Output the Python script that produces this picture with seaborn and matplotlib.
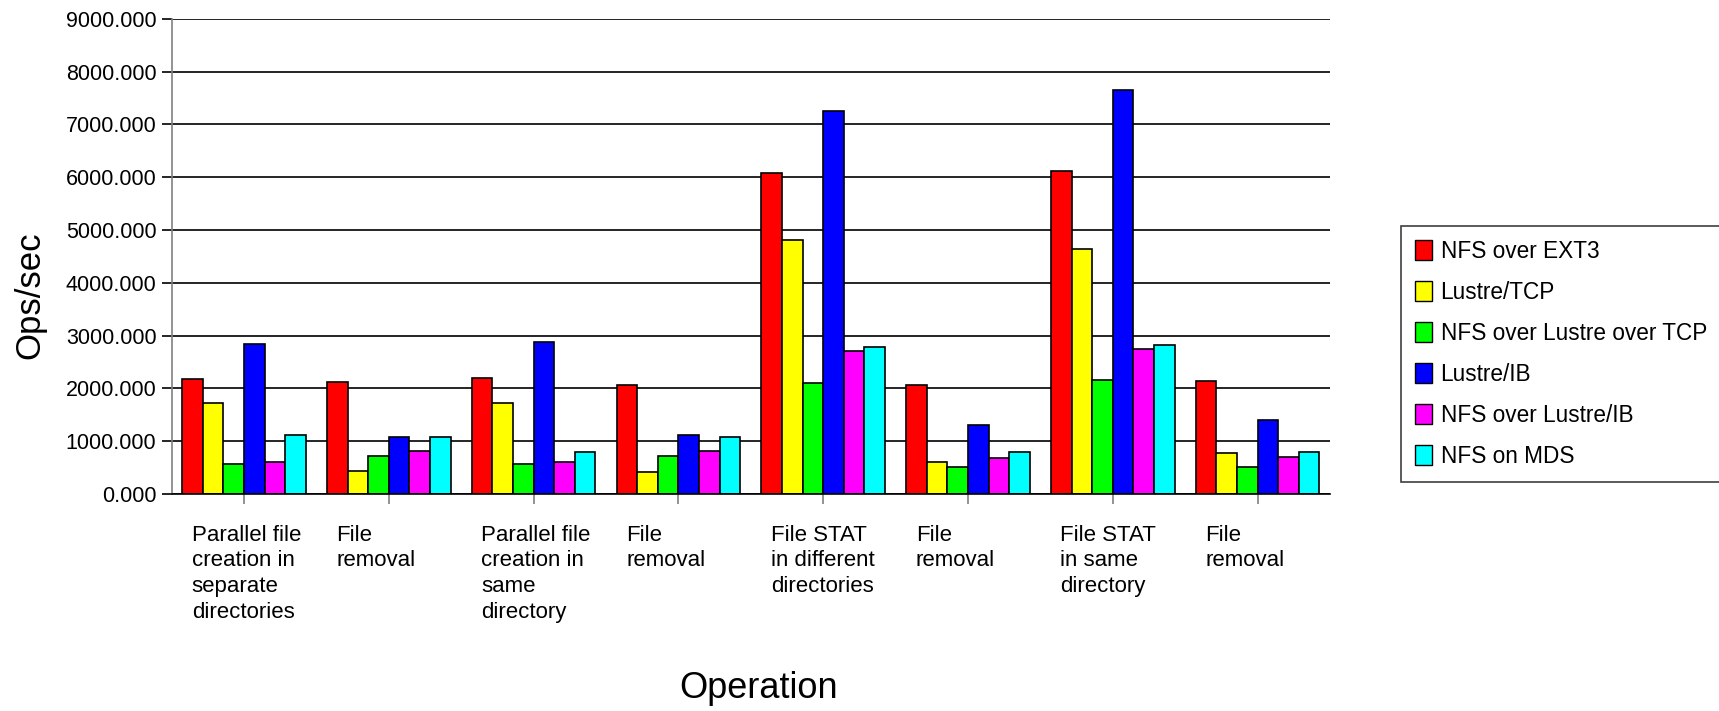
import numpy as np
import pandas as pd
import matplotlib
matplotlib.use("Agg")
import matplotlib.pyplot as plt
import seaborn as sns
from matplotlib.transforms import ScaledTranslation
from matplotlib.patches import Patch
from matplotlib.ticker import FuncFormatter

# ---------------- data ----------------
operation_labels = [
    "Parallel file\ncreation in\nseparate\ndirectories",
    "File\nremoval",
    "Parallel file\ncreation in\nsame\ndirectory",
    "File\nremoval",
    "File STAT\nin different\ndirectories",
    "File\nremoval",
    "File STAT\nin same\ndirectory",
    "File\nremoval",
]
operation_keys = ["op1", "op2", "op3", "op4", "op5", "op6", "op7", "op8"]

series_names = [
    "NFS over EXT3",
    "Lustre/TCP",
    "NFS over Lustre over TCP",
    "Lustre/IB",
    "NFS over Lustre/IB",
    "NFS on MDS",
]
nfs_over_ext3 = [2178, 2115, 2203, 2062, 6073, 2062, 6117, 2140]
lustre_tcp = [1717, 429, 1717, 423, 4817, 606, 4640, 776]
nfs_over_lustre_tcp = [568, 713, 568, 713, 2100, 505, 2153, 505]
lustre_ib = [2847, 1082, 2879, 1114, 7260, 1307, 7645, 1401]
nfs_over_lustre_ib = [600, 811, 600, 817, 2702, 682, 2740, 701]
nfs_on_mds = [1111, 1076, 792, 1073, 2778, 793, 2828, 789]

series_values = [nfs_over_ext3, lustre_tcp, nfs_over_lustre_tcp,
                 lustre_ib, nfs_over_lustre_ib, nfs_on_mds]
colors = ["#FF0000", "#FFFF00", "#00FF00", "#0000FF", "#FF00FF", "#00FFFF"]

rows = []
for name, vals in zip(series_names, series_values):
    for k, v in zip(operation_keys, vals):
        rows.append({"op": k, "series": name, "value": v})
df = pd.DataFrame(rows)

# ---------------- style ----------------
sns.set_theme(style="white")
plt.rcParams["font.family"] = ["Liberation Sans", "DejaVu Sans"]
plt.rcParams["text.color"] = "black"
plt.rcParams["xtick.color"] = "black"
plt.rcParams["ytick.color"] = "black"

W, H = 1719, 711
fig = plt.figure(figsize=(W / 100, H / 100), dpi=100)
fig.patch.set_facecolor("white")
ax = fig.add_axes([171.7 / W, 1 - 494 / H, (1330 - 171.7) / W, (494 - 18.8) / H])

sns.barplot(data=df, x="op", y="value", hue="series", order=operation_keys,
            hue_order=series_names, palette=colors, width=0.854,
            edgecolor="black", linewidth=1.2, saturation=1, ax=ax,
            legend=False, errorbar=None)

ax.set_ylim(0, 9000)
ax.set_xlim(-0.5, len(operation_keys) - 0.5)
ax.set_yticks(np.arange(0, 9001, 1000))
ax.yaxis.set_major_formatter(FuncFormatter(lambda v, p: f"{v:.3f}"))
ax.yaxis.grid(True, color="black", linewidth=1.2)
ax.xaxis.grid(False)
ax.set_axisbelow(True)
for s in ["top", "right"]:
    ax.spines[s].set_visible(False)
ax.spines["left"].set_color("#808080")
ax.spines["left"].set_linewidth(1.2)
ax.spines["bottom"].set_color("black")
ax.spines["bottom"].set_linewidth(1.2)

ax.set_xlabel("")
ax.set_ylabel("")
ax.tick_params(axis="y", direction="out", length=7, width=1.2, color="black",
               pad=4, labelsize=15.5, left=True)
ax.tick_params(axis="x", direction="out", length=7, width=1.2, color="#808080",
               pad=15, labelsize=16, bottom=True)
ax.set_xticks(range(len(operation_keys)))
ax.set_xticklabels(operation_labels)
shift = ScaledTranslation(-52.4 / 100, 0, fig.dpi_scale_trans)
for lab in ax.get_xticklabels():
    lab.set_ha("left")
    lab.set_multialignment("left")
    lab.set_linespacing(1.3)
    lab.set_transform(lab.get_transform() + shift)

fig.text(30 / W, 1 - 295 / H, "Ops/sec", rotation=90, ha="center", va="center",
         fontsize=25)
fig.text(759 / W, 1 - 688 / H, "Operation", ha="center", va="center", fontsize=26)

handles = [Patch(facecolor=c, edgecolor="black", linewidth=1.0) for c in colors]
leg = fig.legend(handles, series_names, loc="upper left",
                 bbox_to_anchor=(1401 / W, 1 - 226 / H), frameon=True,
                 fancybox=False, edgecolor="#404040", framealpha=1, fontsize=16.3,
                 handlelength=0.75, handleheight=0.97, handletextpad=0.4,
                 labelspacing=0.8, borderpad=0.6, borderaxespad=0)
leg.get_frame().set_linewidth(1.2)

fig.savefig("out.png", dpi=100)
